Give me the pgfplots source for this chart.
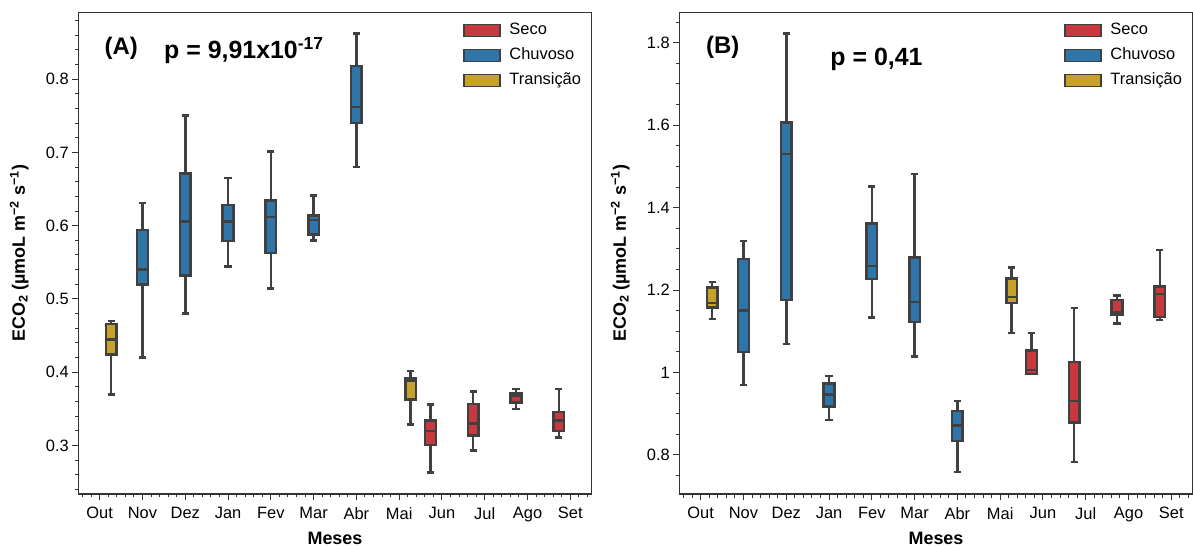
\documentclass[border=0pt]{standalone}
\usepackage{fontspec}
\setmainfont{Liberation Sans}
\usepackage{pgfplots}
\pgfplotsset{compat=1.18}
\usepgfplotslibrary{statistics}

\definecolor{seco}{HTML}{C7393F}
\definecolor{chuvoso}{HTML}{2E75AA}
\definecolor{trans}{HTML}{C7A22A}
\definecolor{edge}{HTML}{404040}
\definecolor{frame}{HTML}{333333}

\pgfplotsset{
  panel/.style={
    scale only axis, width=513.4bp, height=481.3bp,
    xmin=-0.5, xmax=11.5,
    xtick={0,1,2,3,4,5,6,7,8,9,10,11},
    xticklabels={Out,Nov,Dez,Jan,Fev,Mar,Abr,Mai,Jun,Jul,Ago,Set},
    minor xtick={-0.4,-0.2,...,11.45},
    tick align=outside, tick pos=left,
    major tick length=6bp, minor tick length=3.5bp,
    axis line style={draw=frame, line width=1.2bp},
    every tick/.style={draw=frame, line width=1bp},
    ticklabel style={font=\fontsize{16.5}{18}\selectfont},
    xticklabel style={yshift=-4bp},
    /pgf/number format/assume math mode=true,
    xlabel={Meses},
    ylabel={ECO\textsubscript{2} (µmoL m\textsuperscript{−2} s\textsuperscript{−1})},
    every axis x label/.style={at={(axis description cs:0.5,-0.092)}, anchor=center,
      font=\fontsize{18}{20}\selectfont\bfseries},
    every axis y label/.style={at={(axis description cs:-0.115,0.5)}, rotate=90, anchor=center,
      font=\fontsize{18}{20}\selectfont\bfseries},
    legend style={at={(axis description cs:1,1)}, anchor=north east,
      xshift=-6bp, yshift=-6bp, draw=none, fill=none,
      font=\fontsize{16.5}{18}\selectfont,
      nodes={inner sep=1.5bp, text height=12bp, text depth=4bp},
      row sep=6bp,
      /tikz/every odd column/.append style={column sep=7bp}},
    legend cell align=left,
    boxplot/draw direction=y,
    boxplot/box extend=0.25,
    boxplot/whisker extend=0.17,
    boxplot/every median/.style={draw=edge, line width=2.5bp},
    boxplot/every whisker/.style={draw=edge, line width=2.5bp},
  },
  bx/.style={forget plot, draw=edge, line width=2.5bp, solid},
}

\begin{document}
\begin{tikzpicture}
% ---------------- panel A ----------------
\begin{axis}[panel, at={(0bp,0bp)},
    ymin=0.234, ymax=0.8905,
    ytick={0.3,0.4,0.5,0.6,0.7,0.8},
    minor ytick={0.24,0.26,0.28,0.32,0.34,0.36,0.38,0.42,0.44,0.46,0.48,0.52,0.54,0.56,0.58,0.62,0.64,0.66,0.68,0.72,0.74,0.76,0.78,0.82,0.84,0.86,0.88},
]
\addlegendimage{legend image code/.code={\draw[fill=seco,draw=edge,line width=1.5bp] (0bp,-6bp) rectangle (36bp,6bp);}}
\addlegendentry{Seco}
\addlegendimage{legend image code/.code={\draw[fill=chuvoso,draw=edge,line width=1.5bp] (0bp,-6bp) rectangle (36bp,6bp);}}
\addlegendentry{Chuvoso}
\addlegendimage{legend image code/.code={\draw[fill=trans,draw=edge,line width=1.5bp] (0bp,-6bp) rectangle (36bp,6bp);}}
\addlegendentry{Transição}

\addplot[bx, fill=trans, boxplot prepared={draw position=0.27, lower whisker=0.370, lower quartile=0.424, median=0.445, upper quartile=0.466, upper whisker=0.470}] coordinates {};
\addplot[bx, fill=chuvoso, boxplot prepared={draw position=1, lower whisker=0.420, lower quartile=0.520, median=0.540, upper quartile=0.594, upper whisker=0.631}] coordinates {};
\addplot[bx, fill=chuvoso, boxplot prepared={draw position=2, lower whisker=0.480, lower quartile=0.532, median=0.606, upper quartile=0.671, upper whisker=0.750}] coordinates {};
\addplot[bx, fill=chuvoso, boxplot prepared={draw position=3, lower whisker=0.544, lower quartile=0.579, median=0.606, upper quartile=0.628, upper whisker=0.665}] coordinates {};
\addplot[bx, fill=chuvoso, boxplot prepared={draw position=4, lower whisker=0.514, lower quartile=0.563, median=0.612, upper quartile=0.634, upper whisker=0.701}] coordinates {};
\addplot[bx, fill=chuvoso, boxplot prepared={draw position=5, lower whisker=0.580, lower quartile=0.588, median=0.608, upper quartile=0.614, upper whisker=0.641}] coordinates {};
\addplot[bx, fill=chuvoso, boxplot prepared={draw position=6, lower whisker=0.680, lower quartile=0.740, median=0.762, upper quartile=0.818, upper whisker=0.862}] coordinates {};
\addplot[bx, fill=trans, boxplot prepared={draw position=7.27, lower whisker=0.329, lower quartile=0.363, median=0.389, upper quartile=0.392, upper whisker=0.402}] coordinates {};
\addplot[bx, fill=seco, boxplot prepared={draw position=7.73, lower whisker=0.263, lower quartile=0.301, median=0.320, upper quartile=0.334, upper whisker=0.356}] coordinates {};
\addplot[bx, fill=seco, boxplot prepared={draw position=8.73, lower whisker=0.293, lower quartile=0.314, median=0.330, upper quartile=0.357, upper whisker=0.374}] coordinates {};
\addplot[bx, fill=seco, boxplot prepared={draw position=9.73, lower whisker=0.350, lower quartile=0.359, median=0.368, upper quartile=0.371, upper whisker=0.377}] coordinates {};
\addplot[bx, fill=seco, boxplot prepared={draw position=10.73, lower whisker=0.311, lower quartile=0.320, median=0.334, upper quartile=0.346, upper whisker=0.377}] coordinates {};

\node[anchor=west, inner sep=0, font=\fontsize{24}{26}\selectfont\bfseries] at (axis description cs:0.051,0.927) {(A)};
\node[anchor=west, inner sep=0, font=\fontsize{25}{27}\selectfont\bfseries] at (axis description cs:0.167,0.922) {p = 9,91x10\textsuperscript{-17}};
\end{axis}

% ---------------- panel B ----------------
\begin{axis}[panel, at={(601bp,0bp)},
    ymin=0.705, ymax=1.873,
    ytick={0.8,1,1.2,1.4,1.6,1.8},
    minor ytick={0.75,0.85,0.9,0.95,1.05,1.1,1.15,1.25,1.3,1.35,1.45,1.5,1.55,1.65,1.7,1.75,1.85},
]
\addlegendimage{legend image code/.code={\draw[fill=seco,draw=edge,line width=1.5bp] (0bp,-6bp) rectangle (36bp,6bp);}}
\addlegendentry{Seco}
\addlegendimage{legend image code/.code={\draw[fill=chuvoso,draw=edge,line width=1.5bp] (0bp,-6bp) rectangle (36bp,6bp);}}
\addlegendentry{Chuvoso}
\addlegendimage{legend image code/.code={\draw[fill=trans,draw=edge,line width=1.5bp] (0bp,-6bp) rectangle (36bp,6bp);}}
\addlegendentry{Transição}

\addplot[bx, fill=trans, boxplot prepared={draw position=0.27, lower whisker=1.130, lower quartile=1.157, median=1.169, upper quartile=1.206, upper whisker=1.220}] coordinates {};
\addplot[bx, fill=chuvoso, boxplot prepared={draw position=1, lower whisker=0.969, lower quartile=1.050, median=1.150, upper quartile=1.275, upper whisker=1.319}] coordinates {};
\addplot[bx, fill=chuvoso, boxplot prepared={draw position=2, lower whisker=1.069, lower quartile=1.176, median=1.530, upper quartile=1.606, upper whisker=1.822}] coordinates {};
\addplot[bx, fill=chuvoso, boxplot prepared={draw position=3, lower whisker=0.884, lower quartile=0.917, median=0.947, upper quartile=0.973, upper whisker=0.991}] coordinates {};
\addplot[bx, fill=chuvoso, boxplot prepared={draw position=4, lower whisker=1.133, lower quartile=1.227, median=1.258, upper quartile=1.362, upper whisker=1.451}] coordinates {};
\addplot[bx, fill=chuvoso, boxplot prepared={draw position=5, lower whisker=1.039, lower quartile=1.122, median=1.171, upper quartile=1.279, upper whisker=1.481}] coordinates {};
\addplot[bx, fill=chuvoso, boxplot prepared={draw position=6, lower whisker=0.758, lower quartile=0.834, median=0.871, upper quartile=0.906, upper whisker=0.931}] coordinates {};
\addplot[bx, fill=trans, boxplot prepared={draw position=7.27, lower whisker=1.096, lower quartile=1.169, median=1.183, upper quartile=1.228, upper whisker=1.255}] coordinates {};
\addplot[bx, fill=seco, boxplot prepared={draw position=7.73, lower whisker=0.996, lower quartile=0.996, median=1.006, upper quartile=1.053, upper whisker=1.096}] coordinates {};
\addplot[bx, fill=seco, boxplot prepared={draw position=8.73, lower whisker=0.783, lower quartile=0.878, median=0.931, upper quartile=1.025, upper whisker=1.156}] coordinates {};
\addplot[bx, fill=seco, boxplot prepared={draw position=9.73, lower whisker=1.119, lower quartile=1.140, median=1.147, upper quartile=1.176, upper whisker=1.187}] coordinates {};
\addplot[bx, fill=seco, boxplot prepared={draw position=10.73, lower whisker=1.127, lower quartile=1.135, median=1.190, upper quartile=1.208, upper whisker=1.297}] coordinates {};

\node[anchor=west, inner sep=0, font=\fontsize{24}{26}\selectfont\bfseries] at (axis description cs:0.052,0.928) {(B)};
\node[anchor=west, inner sep=0, font=\fontsize{25}{27}\selectfont\bfseries] at (axis description cs:0.294,0.902) {p = 0,41};
\end{axis}

\pgfresetboundingbox
\path (-78.3bp,-53bp) rectangle (1114.7bp,494bp);
\end{tikzpicture}
\end{document}
